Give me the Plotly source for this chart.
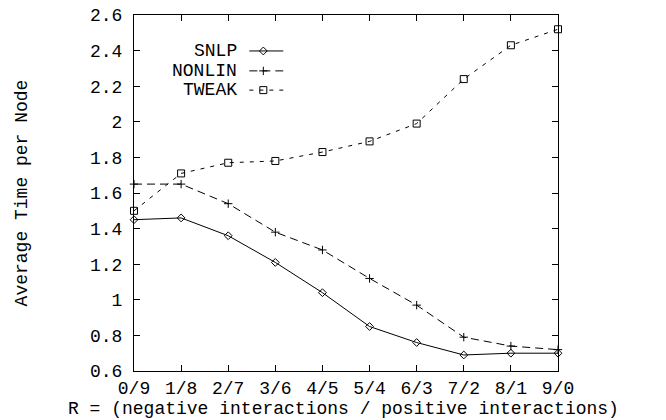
import plotly.graph_objects as go

categories = ["0/9", "1/8", "2/7", "3/6", "4/5", "5/4", "6/3", "7/2", "8/1", "9/0"]
snlp = [1.45, 1.46, 1.36, 1.21, 1.04, 0.85, 0.76, 0.69, 0.70, 0.70]
nonlin = [1.65, 1.65, 1.54, 1.38, 1.28, 1.12, 0.97, 0.79, 0.74, 0.72]
tweak = [1.50, 1.71, 1.77, 1.78, 1.83, 1.89, 1.99, 2.24, 2.43, 2.52]
series_names = ["SNLP", "NONLIN", "TWEAK"]
x_title = "R = (negative interactions / positive interactions)"
y_title = "Average Time per Node"

FONT = "Liberation Mono"
FS = 18
xpos = list(range(len(categories)))

styles = [
    dict(dash="solid", symbol="diamond-open", size=6),
    dict(dash="8px,5px", symbol="cross-thin-open", size=6),
    dict(dash="4px,6px", symbol="square-open", size=7),
]

fig = go.Figure()
for name, vals, st in zip(series_names, [snlp, nonlin, tweak], styles):
    fig.add_trace(go.Scatter(
        x=xpos, y=vals, mode="lines+markers", name=name,
        line=dict(color="black", width=1, dash=st["dash"]),
        marker=dict(symbol=st["symbol"], size=st["size"], color="black",
                    line=dict(color="black", width=1)),
        showlegend=False, cliponaxis=False,
    ))

# gnuplot-style key: right-aligned labels with line samples to the right
key_y = [0.899, 0.843, 0.789]
for i, (name, st) in enumerate(zip(series_names, styles)):
    fig.add_trace(go.Scatter(
        x=[0.272, 0.352], y=[key_y[i], key_y[i]], mode="lines",
        xaxis="x2", yaxis="y2", showlegend=False, hoverinfo="skip",
        line=dict(color="black", width=1, dash=st["dash"]),
    ))
    fig.add_trace(go.Scatter(
        x=[0.305], y=[key_y[i]], mode="markers",
        xaxis="x2", yaxis="y2", showlegend=False, hoverinfo="skip",
        marker=dict(symbol=st["symbol"], size=st["size"], color="black",
                    line=dict(color="black", width=1)),
    ))
    fig.add_annotation(
        xref="x2", yref="y2", x=0.248, y=key_y[i], text=name,
        showarrow=False, xanchor="right", yanchor="middle",
        font=dict(family=FONT, size=FS, color="black"),
    )

fig.add_annotation(
    xref="paper", yref="paper", x=0.495, y=-0.107, text=x_title,
    showarrow=False, xanchor="center", yanchor="middle", borderpad=0,
    font=dict(family=FONT, size=FS, color="black"),
)

fig.update_layout(
    width=666, height=420,
    margin=dict(l=134, r=108, t=15, b=49),
    paper_bgcolor="white", plot_bgcolor="white",
    font=dict(family=FONT, size=FS, color="black"),
    xaxis=dict(
        range=[0, 9], tickvals=xpos, ticktext=categories,
        ticks="inside", ticklen=6, tickcolor="black", tickwidth=1,
        showline=True, linecolor="black", linewidth=1, mirror="ticks",
        showgrid=False, zeroline=False, automargin=False,
        tickfont=dict(family=FONT, size=FS),
    ),
    yaxis=dict(
        range=[0.6, 2.6], dtick=0.2, tick0=0.6,
        ticks="inside", ticklen=6, tickcolor="black", tickwidth=1,
        showline=True, linecolor="black", linewidth=1, mirror="ticks",
        showgrid=False, zeroline=False, automargin=False,
        ticklabelstandoff=7,
        title=dict(text=y_title, standoff=57,
                   font=dict(family=FONT, size=FS)),
        tickfont=dict(family=FONT, size=FS),
    ),
    xaxis2=dict(range=[0, 1], overlaying="x", visible=False, fixedrange=True),
    yaxis2=dict(range=[0, 1], overlaying="y", visible=False, fixedrange=True),
)

fig.write_html("out.html", config={"displayModeBar": False},
               post_script="document.body.style.margin='0px';document.body.style.overflow='hidden';")
